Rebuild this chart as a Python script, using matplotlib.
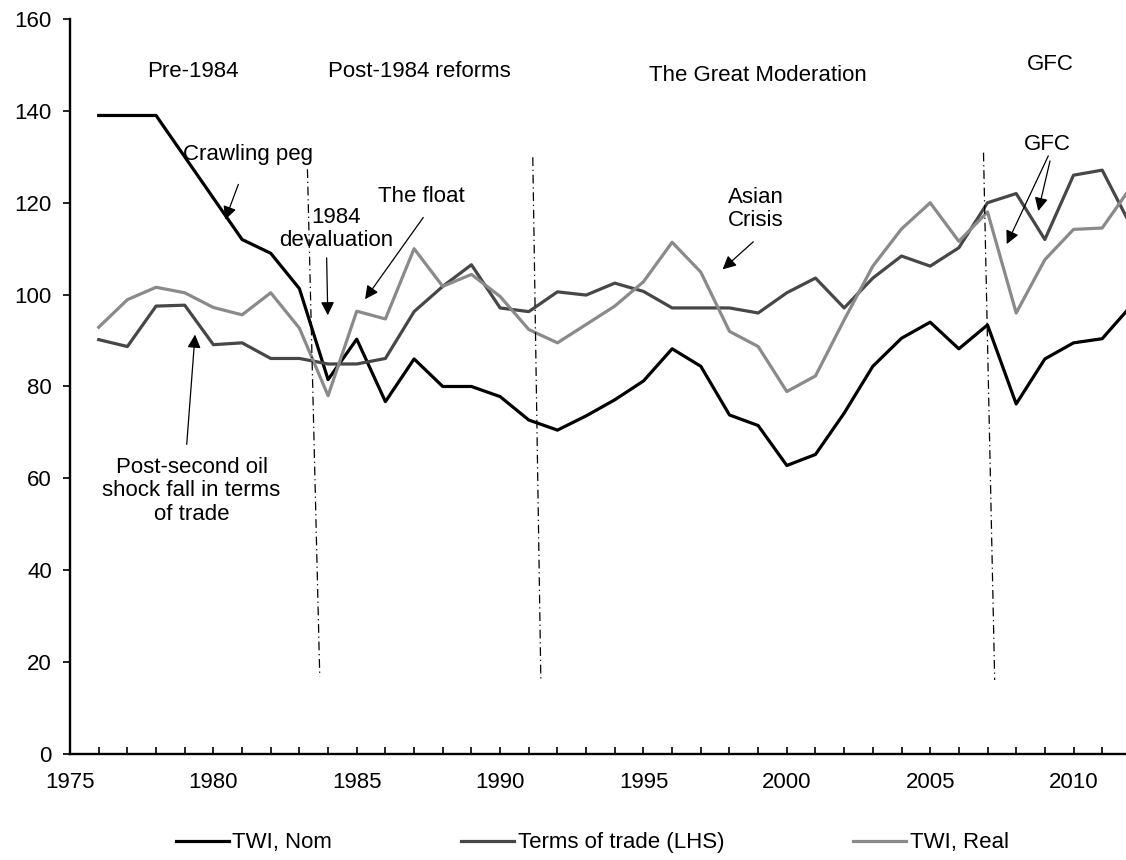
import matplotlib
matplotlib.use("Agg")
import matplotlib.pyplot as plt
from matplotlib.ticker import MultipleLocator

plt.rcParams['font.family'] = ['Liberation Sans', 'DejaVu Sans']

years = list(range(1976, 2013))
twi_nom = [139, 139, 139, 130, 121, 112, 109, 101.3, 81.5, 90.3,
           76.7, 86, 80, 80, 77.8, 72.7, 70.5, 73.6, 77.1, 81.2,
           88.2, 84.4, 73.8, 71.5, 62.8, 65.2, 74.2, 84.4, 90.5, 94,
           88.2, 93.4, 76.2, 86, 89.5, 90.4, 97.5]
terms_of_trade = [90.2, 88.7, 97.5, 97.7, 89.1, 89.5, 86.1, 86.1, 84.9, 84.9,
                  86.1, 96.3, 101.8, 106.5, 97.1, 96.3, 100.6, 99.9, 102.5, 100.7,
                  97.1, 97.1, 97.1, 96.0, 100.4, 103.6, 97.1, 103.6, 108.4, 106.2,
                  110.2, 120, 122, 112, 126, 127.1, 115]
twi_real = [92.9, 98.9, 101.6, 100.4, 97.2, 95.6, 100.4, 92.7, 78, 96.4,
            94.7, 110, 101.8, 104.4, 99.6, 92.4, 89.5, 93.5, 97.5, 102.8,
            111.4, 104.9, 92, 88.7, 78.9, 82.3, 94.5, 106.2, 114.3, 120,
            111.6, 118, 96, 107.6, 114.2, 114.5, 123.4]

# period labels along the top
periods = ["Pre-1984", "Post-1984 reforms", "The Great Moderation", "GFC"]
period_x = [1979.3, 1987.2, 1999.0, 2009.2]
period_y = [148.5, 148.5, 147.8, 150]

# regime break lines (drawn slightly slanted like the original)
breaks = [((1983.28, 1983.71), (127.3, 16.8)),
          ((1991.14, 1991.42), (129.9, 16.4)),
          ((2006.86, 2007.25), (130.9, 16.1))]

# annotations: text, text position, arrow tail, arrow head
notes = [
    ("Crawling peg", (1981.2, 130.4), [((1980.87, 124.0), (1980.41, 116.3))]),
    ("1984\ndevaluation", (1984.28, 114.3), [((1983.95, 108.0), (1983.99, 95.5))]),
    ("The float", (1987.24, 121.3), [((1987.32, 116.8), (1985.29, 99.0))]),
    ("Asian\nCrisis", (1998.93, 118.6), [((1998.83, 111.5), (1997.76, 105.5))]),
    ("GFC", (2009.1, 132.6), [((2009.12, 130.2), (2007.67, 111.0)),
                              ((2009.18, 129.1), (2008.77, 118.2))]),
    ("Post-second oil\nshock fall in terms\nof trade", (1979.24, 57.3),
     [((1979.07, 67.4), (1979.36, 91.3))]),
]

fig = plt.figure(figsize=(11.26, 8.6), dpi=100)
ax = fig.add_axes([0.0622, 0.1233, 0.9378, 0.8546])

ax.plot(years, twi_nom, color='black', lw=2.3, label='TWI, Nom')
ax.plot(years, terms_of_trade, color='#474747', lw=2.3, label='Terms of trade (LHS)')
ax.plot(years, twi_real, color='#8a8a8a', lw=2.3, label='TWI, Real')

for bx, by in breaks:
    ax.plot(bx, by, color='black', lw=0.9, linestyle=(0, (7, 3, 1, 3)))

for txt, x, y in zip(periods, period_x, period_y):
    ax.text(x, y, txt, ha='center', va='center', fontsize=16)

for txt, pos, arrows in notes:
    ax.text(pos[0], pos[1], txt, ha='center', va='center', fontsize=16,
            linespacing=1.15, multialignment='center')
    for tail, head in arrows:
        ax.annotate("", xy=head, xytext=tail,
                    arrowprops=dict(arrowstyle='-|>', color='black', lw=0.9,
                                    mutation_scale=20, shrinkA=0, shrinkB=0))

ax.set_xlim(1975, 2011.83)
ax.set_ylim(0, 160)
ax.xaxis.set_major_locator(MultipleLocator(5))
ax.xaxis.set_minor_locator(MultipleLocator(1))
ax.yaxis.set_major_locator(MultipleLocator(20))
ax.tick_params(axis='x', which='both', direction='in', length=5, width=1.2,
               labelsize=16, pad=13)
ax.tick_params(axis='y', direction='out', length=5, width=1.2, labelsize=16, pad=8)

for side in ['top', 'right']:
    ax.spines[side].set_visible(False)
for side in ['left', 'bottom']:
    ax.spines[side].set_linewidth(1.7)

fig.legend(loc='center left', bbox_to_anchor=(0.156, 0.02), ncol=3, frameon=False,
           fontsize=16, handlelength=2.4, handletextpad=0.15, columnspacing=5.8,
           borderpad=0, borderaxespad=0)

fig.savefig('out.png', dpi=100)
